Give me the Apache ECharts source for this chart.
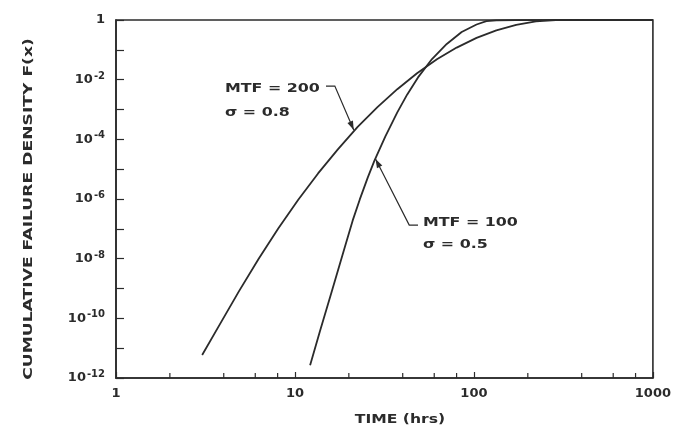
<!DOCTYPE html>
<html>
<head>
<meta charset="utf-8">
<script src="https://cdn.jsdelivr.net/npm/echarts@6/dist/echarts.min.js"></script>
<style>
  html, body { margin: 0; padding: 0; background: #fff; }
  #chart { width: 674px; height: 429px; }
</style>
</head>
<body>
<div id="chart"></div>
<script>
// Lognormal cumulative failure curves, read as (time, F) pairs
const timeA = [3.03, 3.76, 4.86, 6.27, 8.08, 10.43, 13.46, 17.36, 22.4, 28.9, 37.3, 48.1, 62.1,
  80.1, 103.4, 133.4, 172.2, 222, 286.5, 477, 1000];
const densityA = [5.9e-12, 5.6e-11, 8.0e-10, 1.0e-8, 1.05e-7, 9.4e-7, 7.2e-6, 4.6e-5, 2.6e-4, 1.2e-3, 4.8e-3, 1.65e-2, 4.8e-2,
  0.119, 0.251, 0.452, 0.69, 0.90, 0.998, 1, 1];
const timeB = [12.15, 13.8, 15.9, 19.0, 21.0, 23.0, 25.5, 27.8, 32.0, 37.3, 42.4, 48.7, 58.3, 70.5, 85.4,
  103.4, 117.4, 133.4, 172, 477, 1000];
const densityB = [2.7e-12, 3.75e-11, 6.5e-10, 2.45e-8, 1.88e-7, 9.5e-7, 5.2e-6, 1.94e-5, 1.25e-4, 8.0e-4, 3.2e-3, 1.19e-2, 4.9e-2, 0.157, 0.396,
  0.707, 0.91, 0.977, 0.998, 1, 1];

// Axis ranges and tick marks
const xMin = 1, xMax = 1000;
const yMin = 1e-12, yMax = 1;
const xMinorTicks = [2, 4, 6, 8, 20, 40, 60, 80, 200, 400, 600, 800];

// Curve labels and their leader lines (data coordinates: first point at the text, last at the curve)
const labelA = ['MTF = 200', 'σ = 0.8'];
const labelB = ['MTF = 100', 'σ = 0.5'];
const leaderA = [[14.9, 6.1e-3], [16.7, 6.1e-3], [21.3, 2.05e-4]];
const leaderB = [[48.7, 1.34e-7], [43.5, 1.34e-7], [28.2, 2.2e-5]];

const ink = '#2b2b2b';
const font = 'DejaVu Sans';

const zip = (xs, ys) => xs.map((x, i) => [x, ys[i]]);

function supLabel(v) {
  const e = Math.round(Math.log10(v));
  if (e === 0) return '1';
  if (e % 2 !== 0) return '';
  return '10{sup|' + e + '}';
}

const chart = echarts.init(document.getElementById('chart'), null, { renderer: 'canvas' });

const option = {
  backgroundColor: '#fff',
  animation: false,
  grid: {
    left: 116, right: 16, top: 20, bottom: 51,
    show: true, borderColor: ink, borderWidth: 1.6
  },
  xAxis: {
    type: 'log', logBase: 10, min: xMin, max: xMax, interval: 1,
    axisLine: { show: true, lineStyle: { color: ink, width: 1.6 } },
    axisTick: { show: true, inside: true, length: 6, lineStyle: { color: ink, width: 1.2 } },
    splitLine: { show: false },
    axisLabel: {
      color: ink, fontFamily: font, fontSize: 13, fontWeight: 'bold', margin: 9,
      formatter: v => String(Math.round(v))
    }
  },
  yAxis: {
    type: 'log', logBase: 10, min: yMin, max: yMax, interval: 1,
    axisLine: { show: true, lineStyle: { color: ink, width: 1.6 } },
    axisTick: { show: true, inside: true, length: 8, lineStyle: { color: ink, width: 1.2 } },
    splitLine: { show: false },
    axisLabel: {
      color: ink, fontFamily: font, fontSize: 13, fontWeight: 'bold', margin: 11,
      formatter: supLabel,
      rich: {
        sup: { fontFamily: font, fontSize: 10, fontWeight: 'bold', color: ink, verticalAlign: 'top', padding: [0, 0, 7, 1] }
      }
    }
  },
  series: [
    {
      name: 'A', type: 'line', data: zip(timeA, densityA),
      showSymbol: false, smooth: false,
      lineStyle: { color: ink, width: 1.8, join: 'round' }, silent: true
    },
    {
      name: 'B', type: 'line', data: zip(timeB, densityB),
      showSymbol: false, smooth: false,
      lineStyle: { color: ink, width: 1.8, join: 'round' }, silent: true
    },
    {
      // minor ticks along the time axis at 2, 4, 6, 8 of each decade
      type: 'custom', coordinateSystem: 'cartesian2d', silent: true, clip: false,
      data: xMinorTicks.map(v => [v, yMin]),
      renderItem: (params, api) => {
        const p = api.coord([api.value(0), api.value(1)]);
        return {
          type: 'line',
          shape: { x1: p[0], y1: p[1], x2: p[0], y2: p[1] - 5 },
          style: { stroke: ink, lineWidth: 1.2 }
        };
      }
    },
    {
      // leader lines with arrowheads from each label to its curve
      type: 'custom', coordinateSystem: 'cartesian2d', silent: true, clip: false,
      data: [0, 1].map(i => [i]),
      renderItem: (params, api) => {
        const pts = [leaderA, leaderB][params.dataIndex].map(c => api.coord(c));
        const tip = pts[pts.length - 1];
        const prev = pts[pts.length - 2];
        const ang = Math.atan2(tip[1] - prev[1], tip[0] - prev[0]);
        const len = 9, half = 3;
        const bx = tip[0] - len * Math.cos(ang), by = tip[1] - len * Math.sin(ang);
        const nx = -Math.sin(ang) * half, ny = Math.cos(ang) * half;
        return {
          type: 'group',
          children: [
            { type: 'polyline', shape: { points: pts }, style: { stroke: ink, lineWidth: 1.2, fill: null } },
            { type: 'polygon', shape: { points: [tip, [bx + nx, by + ny], [bx - nx, by - ny]] }, style: { fill: ink } }
          ]
        };
      }
    }
  ],
  graphic: [
    { type: 'text', x: 225, y: 89, scaleX: 1.22, style: { text: labelA[0], fill: ink, font: 'bold 13px "DejaVu Sans"', verticalAlign: 'middle' } },
    { type: 'text', x: 225, y: 113, scaleX: 1.22, style: { text: labelA[1], fill: ink, font: 'bold 13px "DejaVu Sans"', verticalAlign: 'middle' } },
    { type: 'text', x: 423, y: 223, scaleX: 1.22, style: { text: labelB[0], fill: ink, font: 'bold 13px "DejaVu Sans"', verticalAlign: 'middle' } },
    { type: 'text', x: 423, y: 245, scaleX: 1.22, style: { text: labelB[1], fill: ink, font: 'bold 13px "DejaVu Sans"', verticalAlign: 'middle' } },
    // axis titles
    { type: 'text', x: 400, y: 420, scaleX: 1.2, style: { text: 'TIME (hrs)', fill: ink, font: 'bold 13px "DejaVu Sans"', align: 'center', verticalAlign: 'middle' } },
    { type: 'text', x: 29, y: 209, rotation: Math.PI / 2, scaleX: 1.32, style: { text: 'CUMULATIVE FAILURE DENSITY F(x)', fill: ink, font: 'bold 13px "DejaVu Sans"', align: 'center', verticalAlign: 'middle' } }
  ]
};

chart.setOption(option);
</script>
</body>
</html>
